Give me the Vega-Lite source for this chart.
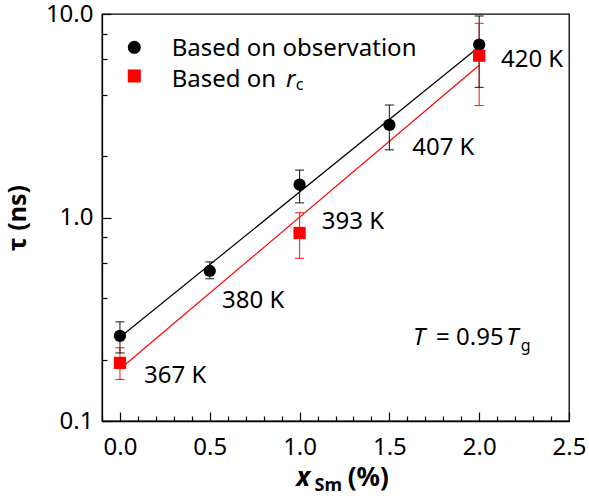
{
  "$schema": "https://vega.github.io/schema/vega-lite/v6.json",
  "width": 467,
  "height": 407,
  "autosize": {"type": "none"},
  "padding": {"left": 102, "top": 14, "right": 20, "bottom": 81},
  "background": "white",
  "config": {
    "font": "Noto Sans",
    "view": {"stroke": "black", "strokeWidth": 1.3},
    "axis": {
      "grid": false,
      "domainColor": "black",
      "domainWidth": 1.3,
      "tickColor": "black",
      "tickWidth": 1.2,
      "labelColor": "black",
      "labelFont": "Noto Sans",
      "labelFontSize": 24,
      "labelFlush": false,
      "titleColor": "black",
      "titleFont": "Noto Sans"
    },
    "text": {"font": "Noto Sans", "fontSize": 24, "align": "left", "baseline": "alphabetic", "color": "black"}
  },
  "datasets": {
    "pts": [
      {"series": "obs", "x": 0.0, "tau": 0.262, "lo": 0.216, "hi": 0.307},
      {"series": "obs", "x": 0.5, "tau": 0.546, "lo": 0.50, "hi": 0.605},
      {"series": "obs", "x": 1.0, "tau": 1.45, "lo": 1.18, "hi": 1.71},
      {"series": "obs", "x": 1.5, "tau": 2.85, "lo": 2.15, "hi": 3.57},
      {"series": "obs", "x": 2.0, "tau": 7.07, "lo": 4.36, "hi": 9.78},
      {"series": "rc", "x": 0.0, "tau": 0.193, "lo": 0.160, "hi": 0.229},
      {"series": "rc", "x": 1.0, "tau": 0.839, "lo": 0.630, "hi": 1.056},
      {"series": "rc", "x": 2.0, "tau": 6.24, "lo": 3.55, "hi": 9.0}
    ],
    "fits": [
      {"series": "obs", "x": 0.0, "tau": 0.258},
      {"series": "obs", "x": 2.0, "tau": 6.9},
      {"series": "rc", "x": 0.0, "tau": 0.18},
      {"series": "rc", "x": 2.0, "tau": 5.6}
    ],
    "legendsym": [
      {"series": "obs", "x": 0.08, "tau": 6.86},
      {"series": "rc", "x": 0.08, "tau": 4.96}
    ],
    "upright": [
      {"x": 0.134, "tau": 0.1532, "label": "367 K"},
      {"x": 0.568, "tau": 0.3592, "label": "380 K"},
      {"x": 1.124, "tau": 0.878, "label": "393 K"},
      {"x": 1.627, "tau": 2.028, "label": "407 K"},
      {"x": 2.121, "tau": 5.51, "label": "420 K"},
      {"x": 0.288, "tau": 6.24, "label": "Based on observation"},
      {"x": 0.288, "tau": 4.39, "label": "Based on"},
      {"x": 1.76, "tau": 0.2363, "label": "= 0.95"}
    ],
    "italic": [
      {"x": 0.925, "tau": 4.39, "label": "r"},
      {"x": 1.632, "tau": 0.2363, "label": "T"},
      {"x": 2.15, "tau": 0.2363, "label": "T"}
    ],
    "sub": [
      {"x": 0.978, "tau": 4.25, "label": "c"},
      {"x": 2.232, "tau": 0.2215, "label": "g"}
    ],
    "xtitle_main": [
      {"x": 0.981, "tau": 0.0479, "label": "x", "part": "var"},
      {"x": 1.268, "tau": 0.0479, "label": "(%)", "part": "unit"}
    ],
    "xtitle_sub": [
      {"x": 1.083, "tau": 0.0455, "label": "Sm"}
    ]
  },
  "resolve": {"axis": {"x": "independent", "y": "independent"}},
  "layer": [
    {
      "data": {"name": "fits"},
      "mark": {"type": "line", "strokeWidth": 1.2},
      "encoding": {
        "x": {"field": "x", "type": "quantitative", "scale": {"domain": [-0.1, 2.5], "nice": false, "zero": false},
          "axis": {"orient": "bottom", "values": [-0.1, 0.1, 0.2, 0.3, 0.4, 0.6, 0.7, 0.8, 0.9, 1.1, 1.2, 1.3, 1.4, 1.6, 1.7, 1.8, 1.9, 2.1, 2.2, 2.3, 2.4], "tickSize": -5, "labels": false, "domain": false, "title": null}},
        "y": {"field": "tau", "type": "quantitative", "scale": {"type": "log", "domain": [0.1, 10], "nice": false},
          "axis": {"orient": "left", "values": [0.2, 0.4, 0.6, 0.8, 2, 4, 6, 8], "tickSize": -5, "labels": false, "domain": false, "title": null}},
        "color": {"field": "series", "type": "nominal", "scale": {"domain": ["obs", "rc"], "range": ["black", "#ff0000"]}, "legend": null}
      }
    },
    {
      "data": {"name": "pts"},
      "mark": {"type": "rule", "strokeWidth": 1.1, "opacity": 0.85},
      "encoding": {
        "x": {"field": "x", "type": "quantitative", "axis": null},
        "y": {"field": "lo", "type": "quantitative", "axis": null},
        "y2": {"field": "hi"},
        "color": {"field": "series", "type": "nominal", "legend": null}
      }
    },
    {
      "data": {"name": "pts"},
      "mark": {"type": "tick", "orient": "horizontal", "size": 9, "thickness": 1.1, "opacity": 0.85},
      "encoding": {
        "x": {"field": "x", "type": "quantitative", "axis": null},
        "y": {"field": "lo", "type": "quantitative", "axis": null},
        "color": {"field": "series", "type": "nominal", "legend": null}
      }
    },
    {
      "data": {"name": "pts"},
      "mark": {"type": "tick", "orient": "horizontal", "size": 9, "thickness": 1.1, "opacity": 0.85},
      "encoding": {
        "x": {"field": "x", "type": "quantitative", "axis": null},
        "y": {"field": "hi", "type": "quantitative", "axis": null},
        "color": {"field": "series", "type": "nominal", "legend": null}
      }
    },
    {
      "data": {"name": "pts"},
      "mark": {"type": "point", "filled": true, "opacity": 1, "size": 150},
      "encoding": {
        "x": {"field": "x", "type": "quantitative",
          "axis": {"orient": "bottom", "values": [0, 0.5, 1, 1.5, 2, 2.5], "format": ".1f", "tickSize": -9, "labelPadding": 23, "title": null}},
        "y": {"field": "tau", "type": "quantitative",
          "axis": {"orient": "left", "values": [0.1, 1, 10], "format": ".1f", "tickSize": -9, "labelPadding": 18, "title": "τ (ns)", "titleFontWeight": "bold", "titleFontSize": 25, "titlePadding": 15}},
        "color": {"field": "series", "type": "nominal", "legend": null},
        "shape": {"field": "series", "type": "nominal", "scale": {"domain": ["obs", "rc"], "range": ["circle", "square"]}, "legend": null}
      }
    },
    {
      "data": {"name": "legendsym"},
      "mark": {"type": "point", "filled": true, "opacity": 1, "size": 170},
      "encoding": {
        "x": {"field": "x", "type": "quantitative", "axis": null},
        "y": {"field": "tau", "type": "quantitative", "axis": null},
        "color": {"field": "series", "type": "nominal", "legend": null},
        "shape": {"field": "series", "type": "nominal", "legend": null}
      }
    },
    {
      "data": {"name": "upright"},
      "mark": {"type": "text"},
      "encoding": {
        "x": {"field": "x", "type": "quantitative", "axis": null},
        "y": {"field": "tau", "type": "quantitative", "axis": null},
        "text": {"field": "label"}
      }
    },
    {
      "data": {"name": "italic"},
      "mark": {"type": "text", "fontStyle": "italic"},
      "encoding": {
        "x": {"field": "x", "type": "quantitative", "axis": null},
        "y": {"field": "tau", "type": "quantitative", "axis": null},
        "text": {"field": "label"}
      }
    },
    {
      "data": {"name": "sub"},
      "mark": {"type": "text", "fontSize": 16},
      "encoding": {
        "x": {"field": "x", "type": "quantitative", "axis": null},
        "y": {"field": "tau", "type": "quantitative", "axis": null},
        "text": {"field": "label"}
      }
    },
    {
      "data": {"name": "xtitle_main"},
      "transform": [{"filter": "datum.part == 'var'"}],
      "mark": {"type": "text", "fontStyle": "italic", "fontWeight": "bold", "fontSize": 26},
      "encoding": {
        "x": {"field": "x", "type": "quantitative", "axis": null},
        "y": {"field": "tau", "type": "quantitative", "axis": null},
        "text": {"field": "label"}
      }
    },
    {
      "data": {"name": "xtitle_main"},
      "transform": [{"filter": "datum.part == 'unit'"}],
      "mark": {"type": "text", "fontWeight": "bold", "fontSize": 26},
      "encoding": {
        "x": {"field": "x", "type": "quantitative", "axis": null},
        "y": {"field": "tau", "type": "quantitative", "axis": null},
        "text": {"field": "label"}
      }
    },
    {
      "data": {"name": "xtitle_sub"},
      "mark": {"type": "text", "fontWeight": "bold", "fontSize": 18},
      "encoding": {
        "x": {"field": "x", "type": "quantitative", "axis": null},
        "y": {"field": "tau", "type": "quantitative", "axis": null},
        "text": {"field": "label"}
      }
    }
  ]
}
